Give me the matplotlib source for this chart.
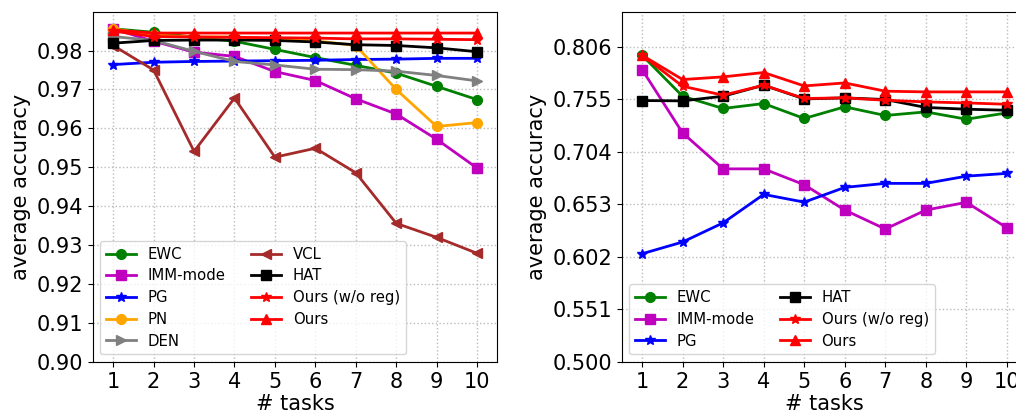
import matplotlib
matplotlib.use('Agg')
import matplotlib.pyplot as plt
import numpy as np
from matplotlib.ticker import FormatStrFormatter

tasks = list(range(1, 11))

# panel izquierdo
ewc_a = [0.9856, 0.9847, 0.9834, 0.9824, 0.9803, 0.9782, 0.9762, 0.9742, 0.9708, 0.9674]
imm_a = [0.9856, 0.9824, 0.9796, 0.9785, 0.9746, 0.9723, 0.9676, 0.9637, 0.9572, 0.9498]
pg_a = [0.9764, 0.9770, 0.9772, 0.9773, 0.9774, 0.9775, 0.9777, 0.9778, 0.9780, 0.9780]
pn_a = [0.9856, 0.9840, 0.9835, 0.9835, 0.9830, 0.9825, 0.9813, 0.9700, 0.9605, 0.9615]
den_a = [0.9836, 0.9826, 0.9798, 0.9772, 0.9763, 0.9752, 0.9751, 0.9747, 0.9736, 0.9722]
vcl_a = [0.9813, 0.9750, 0.9541, 0.9678, 0.9526, 0.9549, 0.9486, 0.9356, 0.9320, 0.9279]
hat_a = [0.9819, 0.9826, 0.9827, 0.9827, 0.9826, 0.9822, 0.9815, 0.9813, 0.9807, 0.9797]
oursnr_a = [0.9850, 0.9836, 0.9835, 0.9834, 0.9833, 0.9832, 0.9830, 0.9830, 0.9829, 0.9828]
ours_a = [0.9853, 0.9845, 0.9845, 0.9845, 0.9845, 0.9845, 0.9845, 0.9845, 0.9845, 0.9845]

# panel derecho
ewc_b = [0.7977, 0.7579, 0.7460, 0.7508, 0.7363, 0.7476, 0.7392, 0.7427, 0.7356, 0.7417]
imm_b = [0.7838, 0.7223, 0.6874, 0.6874, 0.6720, 0.6474, 0.6290, 0.6474, 0.6549, 0.6302]
pg_b = [0.6050, 0.6164, 0.6350, 0.6626, 0.6551, 0.6694, 0.6733, 0.6733, 0.6803, 0.6830]
hat_b = [0.7537, 0.7534, 0.7579, 0.7686, 0.7553, 0.7563, 0.7547, 0.7470, 0.7453, 0.7443]
oursnr_b = [0.7977, 0.7676, 0.7589, 0.7686, 0.7557, 0.7563, 0.7540, 0.7524, 0.7514, 0.7501]
ours_b = [0.7977, 0.7741, 0.7767, 0.7809, 0.7679, 0.7708, 0.7628, 0.7621, 0.7621, 0.7621]

fig = plt.figure(figsize=(10.16, 4.16), dpi=100)
ax1 = fig.add_axes([0.0915, 0.13, 0.398, 0.842])
ax2 = fig.add_axes([0.612, 0.13, 0.399, 0.842])

kw = dict(linewidth=2, markersize=7)

ax1.plot(tasks, ewc_a, color='green', marker='o', label='EWC', **kw)
ax1.plot(tasks, imm_a, color='m', marker='s', label='IMM-mode', **kw)
ax1.plot(tasks, pg_a, color='b', marker='*', label='PG', **kw)
ax1.plot(tasks, pn_a, color='orange', marker='o', label='PN', **kw)
ax1.plot(tasks, den_a, color='gray', marker='>', label='DEN', **kw)
ax1.plot(tasks, vcl_a, color='brown', marker='<', label='VCL', **kw)
ax1.plot(tasks, hat_a, color='k', marker='s', label='HAT', **kw)
ax1.plot(tasks, oursnr_a, color='r', marker='*', label='Ours (w/o reg)', **kw)
ax1.plot(tasks, ours_a, color='r', marker='^', label='Ours', **kw)

ax1.set_ylim(0.90, 0.99)
ax1.set_yticks(np.arange(0.90, 0.985, 0.01))
ax1.yaxis.set_major_formatter(FormatStrFormatter('%.2f'))

ax2.plot(tasks, ewc_b, color='green', marker='o', label='EWC', **kw)
ax2.plot(tasks, imm_b, color='m', marker='s', label='IMM-mode', **kw)
ax2.plot(tasks, pg_b, color='b', marker='*', label='PG', **kw)
ax2.plot(tasks, hat_b, color='k', marker='s', label='HAT', **kw)
ax2.plot(tasks, oursnr_b, color='r', marker='*', label='Ours (w/o reg)', **kw)
ax2.plot(tasks, ours_b, color='r', marker='^', label='Ours', **kw)

ax2.set_ylim(0.50, 0.84)
ax2.set_yticks(np.linspace(0.5, 0.806, 7))
ax2.yaxis.set_major_formatter(FormatStrFormatter('%.3f'))

for ax in (ax1, ax2):
    ax.set_xlim(0.5, 10.5)
    ax.set_xticks(tasks)
    ax.grid(True, linestyle=':', color='#bbbbbb', linewidth=1)
    ax.tick_params(labelsize=15)
    ax.set_xlabel('# tasks', fontsize=15, labelpad=2)
    ax.set_ylabel('average accuracy', fontsize=15, labelpad=4)
    ax.legend(loc='lower left', ncol=2, fontsize=10.7, columnspacing=1.7,
              labelspacing=0.45)

plt.savefig('out.png', dpi=100)
